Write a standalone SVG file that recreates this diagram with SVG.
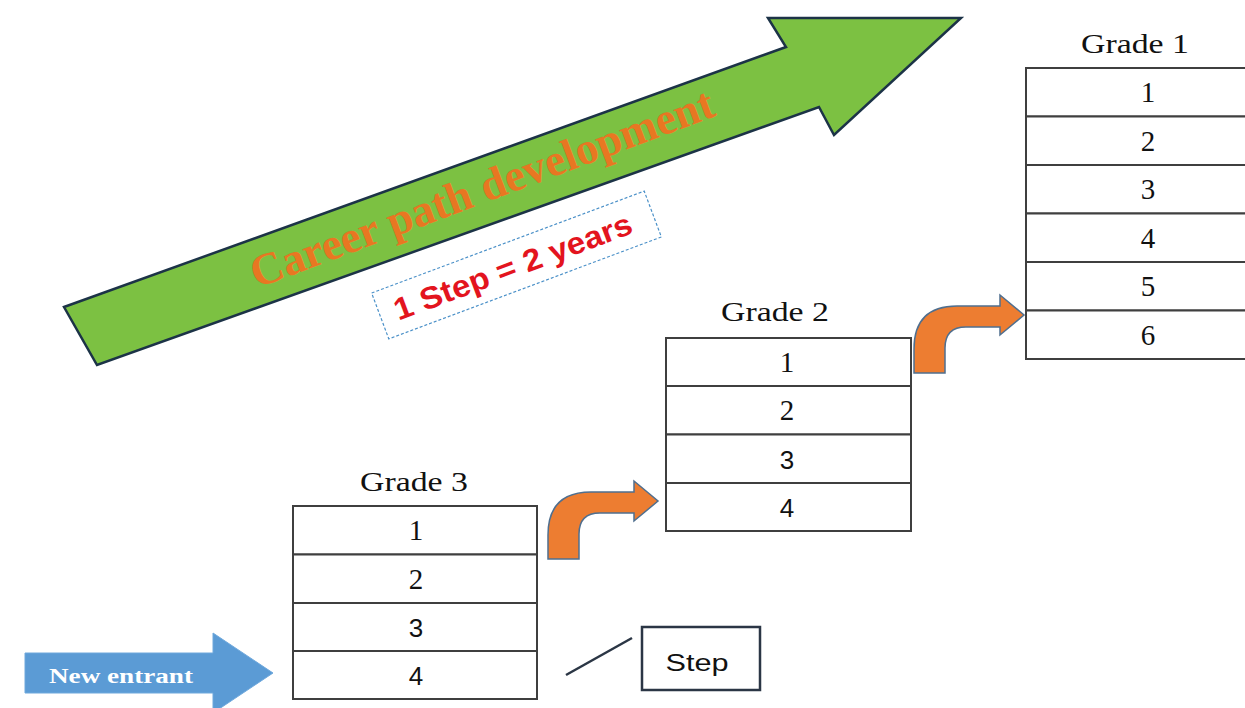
<svg xmlns="http://www.w3.org/2000/svg" width="1245" height="708" viewBox="0 0 1245 708">
  <style>
    .cell { fill: #ffffff; stroke: #3f3f3f; stroke-width: 2; }
    .head { font-family: "Liberation Serif", serif; font-size: 27px; fill: #111111; text-anchor: middle; }
    .num { font-family: "Liberation Serif", serif; font-size: 29px; fill: #111111; text-anchor: middle; }
    .nums { font-family: "Liberation Sans", sans-serif; font-size: 26px; fill: #111111; text-anchor: middle; }
    .bent { fill: #ED7D31; stroke: #4F6F8F; stroke-width: 1.5; }
  </style>
  <defs>
    <!-- bent step-up arrow, stem bottom-left at origin -->
    <path id="bentArrow" d="M0,0 L0,-24 Q0,-67 43,-67 L86,-67 L86,-78 L110,-58 L86,-38 L86,-46 L52,-46 Q31,-46 31,-25 L31,0 Z"/>
  </defs>

  <rect width="1245" height="708" fill="#ffffff"/>

  <!-- Career path banner arrow -->
  <g id="career-arrow">
    <polygon points="64,307 786,47 768,18 961,18 834,135 819,107 97,365" fill="#7CC142" stroke="#1C3347" stroke-width="2.5" stroke-linejoin="miter"/>
    <text transform="translate(487,202) rotate(-20.6)" x="0" y="0" font-family="Liberation Serif, serif" font-weight="bold" font-size="45" fill="#E87722" text-anchor="middle" textLength="492" lengthAdjust="spacingAndGlyphs">Career path development</text>
  </g>

  <!-- Step duration note -->
  <g id="step-note" transform="translate(516.5,265) rotate(-20.5)">
    <rect x="-145.5" y="-24.5" width="291" height="49" fill="#ffffff" stroke="#4A90C8" stroke-width="1.2" stroke-dasharray="3,2"/>
    <text x="-4" y="11" font-family="Liberation Sans, sans-serif" font-weight="bold" font-size="31" fill="#E3141E" text-anchor="middle" textLength="252" lengthAdjust="spacingAndGlyphs">1 Step = 2 years</text>
  </g>

  <!-- Grade 3 -->
  <g id="grade-3">
    <text class="head" x="414" y="491" textLength="108" lengthAdjust="spacingAndGlyphs">Grade 3</text>
    <rect class="cell" x="293" y="506" width="244" height="48.5"/>
    <rect class="cell" x="293" y="554.5" width="244" height="48.5"/>
    <rect class="cell" x="293" y="603" width="244" height="48"/>
    <rect class="cell" x="293" y="651" width="244" height="48"/>
    <text class="num" x="416" y="540">1</text>
    <text class="num" x="416" y="588.5">2</text>
    <text class="nums" x="416" y="636.5">3</text>
    <text class="nums" x="416" y="684.5">4</text>
  </g>

  <!-- Grade 2 -->
  <g id="grade-2">
    <text class="head" x="775" y="321" textLength="108" lengthAdjust="spacingAndGlyphs">Grade 2</text>
    <rect class="cell" x="666" y="338" width="245" height="48"/>
    <rect class="cell" x="666" y="386" width="245" height="48.5"/>
    <rect class="cell" x="666" y="434.5" width="245" height="48.5"/>
    <rect class="cell" x="666" y="483" width="245" height="48"/>
    <text class="num" x="787" y="372">1</text>
    <text class="num" x="787" y="420">2</text>
    <text class="nums" x="787" y="468.5">3</text>
    <text class="nums" x="787" y="516.5">4</text>
  </g>

  <!-- Grade 1 -->
  <g id="grade-1">
    <text class="head" x="1135" y="53" textLength="108" lengthAdjust="spacingAndGlyphs">Grade 1</text>
    <rect class="cell" x="1026" y="68" width="250" height="48.5"/>
    <rect class="cell" x="1026" y="116.5" width="250" height="48.5"/>
    <rect class="cell" x="1026" y="165" width="250" height="48.5"/>
    <rect class="cell" x="1026" y="213.5" width="250" height="48.5"/>
    <rect class="cell" x="1026" y="262" width="250" height="48.5"/>
    <rect class="cell" x="1026" y="310.5" width="250" height="48.5"/>
    <text class="num" x="1148" y="102">1</text>
    <text class="num" x="1148" y="151">2</text>
    <text class="num" x="1148" y="199">3</text>
    <text class="num" x="1148" y="248">4</text>
    <text class="num" x="1148" y="296">5</text>
    <text class="num" x="1148" y="345">6</text>
  </g>

  <!-- New entrant arrow -->
  <g id="new-entrant">
    <polygon points="25,653 213,653 213,633 273,673 213,713 213,693 25,693" fill="#5B9BD5" stroke="#6FA8DC" stroke-width="1"/>
    <text x="121" y="683" font-family="Liberation Serif, serif" font-weight="bold" font-size="20" fill="#ffffff" text-anchor="middle" textLength="144" lengthAdjust="spacingAndGlyphs">New entrant</text>
  </g>

  <!-- Step callout -->
  <g id="step-label">
    <rect x="642" y="627" width="118" height="63" fill="#ffffff" stroke="#2B3645" stroke-width="2.5"/>
    <text x="697" y="671" font-family="Liberation Sans, sans-serif" font-size="24" fill="#111111" text-anchor="middle" textLength="63" lengthAdjust="spacingAndGlyphs">Step</text>
  </g>

  <!-- Connectors: promotion arrows and callout leader -->
  <g id="connectors">
    <use href="#bentArrow" class="bent" transform="translate(548,559)"/>
    <use href="#bentArrow" class="bent" transform="translate(914,373)"/>
    <line x1="566" y1="675" x2="632" y2="638" stroke="#2B3645" stroke-width="2.5"/>
  </g>
</svg>
